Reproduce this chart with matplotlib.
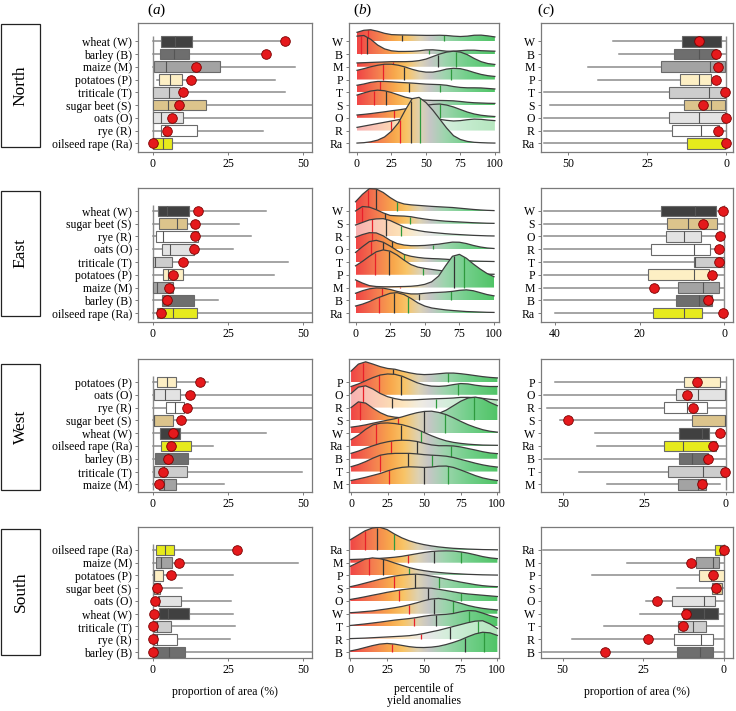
import numpy as np
import matplotlib
matplotlib.use("Agg")
import matplotlib.pyplot as plt
from matplotlib.colors import LinearSegmentedColormap
from matplotlib.patches import Polygon, Rectangle

# percentile grid of the density curves in panel (b)
PCT = np.arange(0, 101, 5)

CROP_NAMES = {"W": "wheat (W)", "B": "barley (B)", "M": "maize (M)", "P": "potatoes (P)",
              "T": "triticale (T)", "S": "sugar beet (S)", "O": "oats (O)", "R": "rye (R)",
              "Ra": "oilseed rape (Ra)"}
CROP_COLORS = {"W": "#404040", "B": "#6e6e6e", "M": "#a3a3a3", "P": "#fdefc4", "T": "#cdcdcd",
               "S": "#dcc48c", "O": "#e3e3e3", "R": "#ffffff", "Ra": "#e6ea1c"}

# ---------------- North ----------------
NORTH_ORDER = ["W", "B", "M", "P", "T", "S", "O", "R", "Ra"]
# (whisker low, q1, median, q3, whisker high)
NORTH_AREA = [(0, 2.6, 7.2, 13.0, 44.0), (0, 2.3, 6.9, 11.9, 37.8), (0, 0.2, 4.4, 22.4, 47.4),
              (1.3, 2.0, 5.8, 9.7, 40.7), (0, 0, 5.2, 8.9, 44.0), (0, 0, 5.0, 17.8, 60),
              (0, 0, 2.8, 10.0, 60), (0, 2.8, 4.1, 14.7, 36.7), (0, 0, 3.3, 6.2, 60)]
NORTH_AREA_DOT = [44.0, 37.8, 14.4, 12.8, 9.9, 8.7, 6.2, 4.8, 0.0]
NORTH_DENS = [
    [0.70, 0.86, 0.90, 0.78, 0.62, 0.52, 0.50, 0.49, 0.48, 0.47, 0.46, 0.46, 0.47, 0.45, 0.40, 0.37, 0.40, 0.47, 0.48, 0.42, 0.34],
    [1.40, 1.45, 1.15, 0.70, 0.40, 0.25, 0.20, 0.20, 0.21, 0.25, 0.32, 0.33, 0.28, 0.22, 0.22, 0.26, 0.30, 0.30, 0.26, 0.24, 0.22],
    [0.30, 0.32, 0.34, 0.36, 0.38, 0.40, 0.40, 0.40, 0.42, 0.48, 0.60, 0.80, 1.00, 1.15, 1.22, 1.15, 0.95, 0.65, 0.40, 0.25, 0.18],
    [0.72, 0.85, 1.00, 1.12, 1.20, 1.20, 1.12, 0.98, 0.80, 0.66, 0.58, 0.58, 0.68, 0.82, 0.88, 0.85, 0.72, 0.55, 0.40, 0.30, 0.24],
    [0.55, 0.65, 0.78, 0.85, 0.85, 0.82, 0.78, 0.75, 0.72, 0.68, 0.64, 0.62, 0.60, 0.55, 0.45, 0.38, 0.35, 0.35, 0.34, 0.30, 0.26],
    [0.78, 0.95, 1.10, 1.17, 1.12, 0.98, 0.80, 0.62, 0.50, 0.42, 0.38, 0.36, 0.36, 0.35, 0.33, 0.28, 0.22, 0.18, 0.16, 0.14, 0.13],
    [0.22, 0.27, 0.33, 0.40, 0.47, 0.55, 0.62, 0.70, 0.78, 0.88, 0.98, 1.05, 1.08, 1.00, 0.85, 0.65, 0.45, 0.30, 0.20, 0.14, 0.10],
    [0.25, 0.35, 0.45, 0.55, 0.65, 0.75, 0.85, 0.95, 1.02, 1.05, 1.02, 0.95, 0.88, 0.80, 0.75, 0.78, 0.85, 0.90, 0.88, 0.82, 0.78],
    [0.02, 0.05, 0.12, 0.25, 0.50, 0.95, 1.60, 2.60, 3.50, 3.60, 3.20, 2.60, 1.90, 1.20, 0.60, 0.30, 0.15, 0.08, 0.05, 0.03, 0.02],
]
NORTH_QUANT = [(8, 33, 63), (3, 7.5, 52), (26, 59, 72), (19, 34, 68), (17, 38, 60),
               (12, 21, 48), (27, 48, 60), (25, 43, 57), (31, 39, 46)]
NORTH_LOSS_ORDER = ["W", "B", "M", "P", "T", "S", "O", "R", "Ra"]
NORTH_LOSS = [(0, 1.5, 8.4, 13.9, 35.7), (0, 3.3, 8.6, 16.3, 33.8), (0, 0.2, 5.1, 20.7, 43.5),
              (1.8, 4.6, 8.4, 14.6, 40.6), (0, 0.2, 5.5, 17.9, 57.5), (0, 0.2, 4.7, 13.3, 55.6),
              (0, 0.2, 8.6, 18.0, 57.5), (0, 2.1, 7.9, 17.0, 57.5), (0, 0.2, 0.2, 12.5, 57.5)]
NORTH_LOSS_DOT = [8.4, 3.3, 2.6, 3.3, 0.2, 7.2, 0.0, 2.6, 0.0]

# ---------------- East ----------------
EAST_ORDER = ["W", "S", "R", "O", "T", "P", "M", "B", "Ra"]
EAST_AREA = [(0, 1.5, 4.7, 12.0, 37.6), (0, 2.0, 7.9, 11.3, 28.7), (0, 1.1, 3.4, 14.9, 32.8),
             (0, 3.0, 5.7, 13.5, 26.6), (0, 0, 0.6, 6.4, 45.0), (0, 3.4, 5.0, 10.1, 40.4),
             (0, 0, 1.3, 6.5, 60), (0, 3.0, 5.0, 13.7, 21.6), (0, 1.3, 6.5, 14.6, 60)]
EAST_AREA_DOT = [14.9, 13.9, 13.9, 13.5, 9.9, 6.5, 5.4, 4.8, 2.8]
EAST_DENS = [
    [0.72, 1.30, 1.75, 1.72, 1.45, 1.05, 0.72, 0.55, 0.48, 0.44, 0.40, 0.36, 0.33, 0.30, 0.27, 0.22, 0.17, 0.12, 0.08, 0.05, 0.03],
    [1.00, 1.35, 1.30, 1.10, 0.85, 0.65, 0.62, 0.60, 0.55, 0.45, 0.37, 0.30, 0.25, 0.20, 0.17, 0.14, 0.11, 0.08, 0.06, 0.04, 0.03],
    [0.90, 1.10, 1.30, 1.38, 1.40, 1.25, 1.00, 0.75, 0.58, 0.47, 0.38, 0.32, 0.27, 0.22, 0.18, 0.15, 0.12, 0.09, 0.07, 0.05, 0.04],
    [0.95, 1.15, 1.30, 1.28, 1.05, 0.70, 0.45, 0.33, 0.28, 0.28, 0.30, 0.35, 0.40, 0.48, 0.56, 0.55, 0.45, 0.30, 0.18, 0.10, 0.06],
    [0.75, 1.20, 1.60, 1.70, 1.55, 1.25, 0.90, 0.60, 0.45, 0.36, 0.30, 0.27, 0.25, 0.22, 0.18, 0.14, 0.11, 0.08, 0.06, 0.05, 0.04],
    [0.70, 1.05, 1.45, 1.80, 1.95, 1.85, 1.55, 1.15, 0.80, 0.60, 0.50, 0.42, 0.35, 0.28, 0.22, 0.17, 0.13, 0.10, 0.07, 0.05, 0.04],
    [0.60, 0.35, 0.15, 0.08, 0.06, 0.06, 0.07, 0.08, 0.10, 0.15, 0.25, 0.45, 0.90, 1.70, 2.45, 2.60, 2.30, 1.85, 1.45, 1.10, 0.85],
    [0.55, 0.75, 0.90, 0.97, 0.95, 0.85, 0.70, 0.58, 0.50, 0.50, 0.55, 0.60, 0.62, 0.65, 0.70, 0.78, 0.82, 0.75, 0.60, 0.45, 0.35],
    [0.55, 0.70, 0.90, 1.15, 1.35, 1.55, 1.60, 1.45, 1.15, 0.80, 0.55, 0.40, 0.32, 0.25, 0.20, 0.16, 0.12, 0.10, 0.08, 0.06, 0.05],
]
EAST_QUANT = [(9, 15, 30), (5, 21, 39), (12, 22, 33), (12, 26, 56), (11, 20, 35),
              (14, 24, 49), (32, 71, 78), (19, 46, 69), (17, 28, 38)]
EAST_LOSS_ORDER = ["W", "S", "O", "R", "T", "P", "M", "B", "Ra"]
EAST_LOSS = [(0, 2.0, 6.9, 15.0, 42.6), (0, 1.7, 8.6, 13.4, 42.6), (0, 5.4, 9.4, 13.8, 42.6),
             (0, 3.3, 7.2, 17.2, 42.6), (0, 0, 7.0, 7.2, 42.6), (0, 3.5, 7.2, 18.1, 42.6),
             (0, 1.3, 4.9, 10.8, 42.6), (0, 2.8, 5.9, 11.4, 42.6), (0, 5.3, 9.6, 16.9, 40.0)]
EAST_LOSS_DOT = [0.3, 5.0, 0.9, 1.3, 1.2, 2.8, 16.5, 3.9, 0.3]

# ---------------- West ----------------
WEST_ORDER = ["P", "O", "R", "S", "W", "Ra", "B", "T", "M"]
WEST_AREA = [(0, 1.3, 4.5, 7.8, 18.4), (0, 0.2, 3.9, 8.9, 60), (0, 4.2, 7.3, 10.3, 60),
             (0, 0.2, 0.2, 6.7, 60), (0, 2.2, 6.7, 8.9, 37.7), (0, 2.5, 6.1, 12.5, 20.1),
             (0, 0.6, 5.0, 11.7, 60), (0, 0.2, 3.6, 11.2, 49.5), (0, 2.0, 3.6, 7.5, 23.5)]
WEST_AREA_DOT = [15.6, 12.3, 11.2, 9.2, 6.7, 6.1, 5.0, 3.4, 1.9]
WEST_DENS = [
    [0.85, 1.40, 1.58, 1.40, 1.20, 1.06, 1.00, 0.85, 0.72, 0.62, 0.58, 0.60, 0.65, 0.70, 0.70, 0.65, 0.58, 0.50, 0.42, 0.36, 0.32],
    [0.65, 0.85, 1.10, 1.35, 1.55, 1.63, 1.60, 1.45, 1.20, 0.95, 0.78, 0.68, 0.66, 0.70, 0.80, 0.88, 0.85, 0.75, 0.68, 0.65, 0.65],
    [1.10, 1.60, 1.70, 1.45, 1.10, 0.85, 0.70, 0.60, 0.60, 0.62, 0.65, 0.68, 0.70, 0.72, 0.75, 0.80, 0.80, 0.78, 0.72, 0.65, 0.60],
    [1.00, 1.45, 1.35, 0.95, 0.60, 0.35, 0.25, 0.20, 0.20, 0.22, 0.28, 0.38, 0.55, 0.80, 1.15, 1.50, 1.75, 1.82, 1.70, 1.40, 1.15],
    [0.47, 0.55, 0.65, 0.78, 0.90, 1.02, 1.13, 1.28, 1.45, 1.60, 1.70, 1.72, 1.62, 1.45, 1.20, 0.92, 0.66, 0.45, 0.27, 0.15, 0.08],
    [0.50, 0.85, 1.30, 1.65, 1.78, 1.80, 1.75, 1.66, 1.50, 1.30, 1.05, 0.80, 0.58, 0.40, 0.28, 0.20, 0.14, 0.10, 0.07, 0.06, 0.05],
    [0.42, 0.60, 0.82, 1.02, 1.20, 1.33, 1.42, 1.45, 1.43, 1.35, 1.20, 1.08, 1.02, 1.02, 1.00, 0.92, 0.80, 0.68, 0.55, 0.45, 0.40],
    [0.38, 0.55, 0.78, 1.05, 1.28, 1.38, 1.42, 1.42, 1.42, 1.38, 1.32, 1.28, 1.25, 1.20, 1.10, 0.95, 0.80, 0.65, 0.52, 0.42, 0.35],
    [0.30, 0.42, 0.55, 0.70, 0.85, 1.05, 1.22, 1.33, 1.37, 1.35, 1.32, 1.35, 1.42, 1.43, 1.32, 1.12, 0.90, 0.68, 0.50, 0.38, 0.30],
]
WEST_QUANT = [(8, 29, 66), (19, 34, 73), (8, 28, 58), (6, 43, 84), (32, 50, 64),
              (17, 34, 48), (27, 45, 68), (20, 39, 55), (26, 50, 66)]
WEST_LOSS_ORDER = ["P", "O", "R", "S", "W", "Ra", "B", "T", "M"]
WEST_LOSS = [(0, 1.9, 8.9, 12.7, 52.4), (0, 0.2, 8.4, 15.3, 55.7), (0, 5.8, 11.8, 19.0, 54.9),
             (0, 0.2, 0.2, 10.4, 50.8), (0, 5.1, 7.4, 14.5, 40.1), (0, 3.0, 13.0, 19.0, 39.6),
             (0, 5.6, 10.4, 14.3, 55.7), (0, 0.2, 6.9, 17.6, 44.9), (1.7, 6.2, 8.4, 14.6, 36.5)]
WEST_LOSS_DOT = [8.9, 12.0, 10.1, 48.5, 1.7, 4.0, 5.6, 0.2, 7.4]

# ---------------- South ----------------
SOUTH_ORDER = ["Ra", "M", "P", "S", "O", "W", "T", "R", "B"]
SOUTH_AREA = [(0, 1.1, 3.9, 6.9, 27.9), (0, 1.1, 2.5, 6.4, 48.4), (0, 0.2, 0.2, 3.4, 26.8),
              (0, 0.2, 1.3, 2.2, 9.8), (0, 1.5, 2.0, 9.2, 25.9), (0, 1.9, 5.0, 12.0, 26.5),
              (0, 0.2, 1.3, 6.1, 27.4), (0, 0.2, 1.3, 8.0, 25.7), (0, 0, 5.4, 10.6, 60)]
SOUTH_AREA_DOT = [27.9, 8.6, 6.1, 1.3, 0.8, 0.2, 0.0, 0.0, 0.0]
SOUTH_DENS = [
    [0.80, 1.15, 1.50, 1.72, 1.78, 1.60, 1.25, 0.95, 0.72, 0.55, 0.42, 0.32, 0.24, 0.18, 0.13, 0.10, 0.07, 0.05, 0.03, 0.02, 0.01],
    [0.25, 0.27, 0.29, 0.31, 0.34, 0.38, 0.43, 0.50, 0.60, 0.70, 0.80, 0.88, 0.92, 0.93, 0.92, 0.85, 0.75, 0.62, 0.48, 0.38, 0.32],
    [0.72, 1.00, 1.28, 1.38, 1.32, 1.18, 0.98, 0.80, 0.62, 0.48, 0.38, 0.30, 0.24, 0.19, 0.15, 0.12, 0.09, 0.07, 0.05, 0.04, 0.03],
    [0.12, 0.25, 0.40, 0.55, 0.70, 0.83, 0.95, 1.03, 1.08, 1.10, 1.05, 0.95, 0.85, 0.72, 0.60, 0.48, 0.38, 0.28, 0.20, 0.15, 0.12],
    [0.12, 0.22, 0.33, 0.45, 0.56, 0.68, 0.78, 0.88, 0.95, 1.00, 1.02, 1.00, 0.92, 0.82, 0.72, 0.62, 0.55, 0.50, 0.45, 0.40, 0.35],
    [0.08, 0.12, 0.17, 0.22, 0.30, 0.38, 0.47, 0.57, 0.70, 0.85, 1.02, 1.15, 1.20, 1.12, 0.98, 0.82, 0.65, 0.52, 0.42, 0.35, 0.30],
    [0.08, 0.14, 0.20, 0.27, 0.34, 0.42, 0.50, 0.56, 0.62, 0.70, 0.80, 0.88, 0.92, 0.95, 1.02, 1.15, 1.25, 1.22, 1.05, 0.85, 0.70],
    [0.05, 0.07, 0.09, 0.12, 0.15, 0.18, 0.21, 0.24, 0.28, 0.35, 0.45, 0.58, 0.70, 0.85, 1.00, 1.15, 1.30, 1.42, 1.45, 1.20, 0.85],
    [0.08, 0.20, 0.35, 0.50, 0.62, 0.67, 0.62, 0.52, 0.42, 0.36, 0.35, 0.38, 0.45, 0.58, 0.75, 0.95, 1.20, 1.42, 1.55, 1.50, 1.30],
]
SOUTH_QUANT = [(10, 18, 30), (39, 57, 75), (13, 22, 40), (30, 44, 60), (33, 53, 75),
               (40, 57, 70), (43, 58, 81), (48, 68, 87), (28, 78, 91)]
SOUTH_LOSS_ORDER = ["Ra", "M", "P", "S", "O", "W", "T", "R", "B"]
SOUTH_LOSS = [(0, 0, 1.2, 2.8, 56), (0, 1.5, 3.5, 8.8, 30.2), (0, 0, 4.1, 7.7, 41.0),
              (0, 0.5, 2.3, 3.6, 14.7), (0, 2.8, 6.1, 16.0, 24.2), (0, 1.8, 6.1, 12.6, 26.0),
              (0, 5.6, 9.5, 14.2, 37.2), (0, 3.5, 7.2, 15.4, 47.2), (0, 3.5, 7.4, 14.5, 56)]
SOUTH_LOSS_DOT = [0.0, 10.2, 3.3, 2.6, 20.7, 11.8, 12.6, 23.4, 36.9]

REGIONS = ["North", "East", "West", "South"]

# layout in pixels of the 736 x 711 figure
W_PX, H_PX = 736, 711
COL_X = [(138, 312), (349, 499), (541, 733)]
ROW_Y = [(23, 152), (188, 322), (359, 492), (527, 658)]
LABEL_BOX_Y = [(24, 147), (191, 316), (364, 490), (529, 655)]
ROW_YLIM = [(0.32, 10.43), (0.3, 10.8), (0.4, 10.8), (0.53, 10.8)]
RIDGE_XLIM = [(-5.8, 103), (-4.7, 103.6), (-1.4, 101.1), (-0.9, 101.1)]
LOSS_XLIM = [(58.5, -2.2), (43.3, -2.1), (56.7, -2.2), (56.7, -2.8)]
LOSS_TICKS = [[50, 25, 0], [40, 20, 0], [50, 25, 0], [50, 25, 0]]

plt.rcParams["font.family"] = ["Liberation Serif", "DejaVu Serif"]
plt.rcParams["mathtext.fontset"] = "custom"
plt.rcParams["mathtext.rm"] = "Liberation Serif"
plt.rcParams["mathtext.it"] = "Liberation Serif:italic"

GRAY = "#7a7a7a"
WHISKER = "#8c8c8c"
FS = 8.5

yield_cmap = LinearSegmentedColormap.from_list(
    "yield", [(0, "#f04545"), (0.15, "#f47d50"), (0.27, "#f8a84c"), (0.36, "#f9c466"),
              (0.46, "#ddd2b4"), (0.53, "#c6c6c6"), (0.64, "#9dd5ad"), (0.8, "#72cf8a"),
              (1, "#50c466")])


def px_axes(fig, col, row):
    x0, x1 = COL_X[col]
    y0, y1 = ROW_Y[row]
    ax = fig.add_axes([x0 / W_PX, 1 - y1 / H_PX, (x1 - x0) / W_PX, (y1 - y0) / H_PX])
    for s in ax.spines.values():
        s.set_color(GRAY)
        s.set_linewidth(0.9)
    ax.tick_params(labelsize=FS, length=2.5, width=0.7, color=GRAY, pad=2)
    return ax


def draw_boxes(ax, order, stats, dots, ylim):
    ys = np.arange(len(order), 0, -1)
    bx = [dict(whislo=s[0], q1=s[1], med=s[2], q3=s[3], whishi=s[4], fliers=[]) for s in stats]
    ax.vlines(0, ys.min() - 0.45, ys.max() + 0.45, color=WHISKER, lw=1.0, zorder=1)
    art = ax.bxp(bx, positions=ys, widths=0.84, orientation="horizontal", patch_artist=True,
                 showcaps=False, showfliers=False,
                 boxprops=dict(edgecolor="#6a6a6a", linewidth=0.8),
                 whiskerprops=dict(color=WHISKER, linewidth=1.1),
                 medianprops=dict(color="#555555", linewidth=0.8))
    for patch, code in zip(art["boxes"], order):
        patch.set_facecolor(CROP_COLORS[code])
        patch.set_zorder(3)
    for line in art["medians"]:
        line.set_zorder(4)
    ax.scatter(dots, ys, s=48, color="#e5191c", edgecolor="#7a0000", linewidth=0.6, zorder=5, clip_on=False)
    ax.set_ylim(*ylim)
    ax.set_yticks(ys)


def draw_ridges(ax, order, dens, quants, xlim, ylim):
    ys = np.arange(len(order), 0, -1)
    colors = yield_cmap(np.linspace(0, 1, 256))
    for i, (code, d, q) in enumerate(zip(order, dens, quants)):
        y0 = ys[i]
        d = np.asarray(d, dtype=float)
        z = 10 + i
        img = colors.copy()
        if code == "R":
            img[:, :3] = 1 - 0.42 * (1 - img[:, :3])
        verts = np.column_stack([np.r_[PCT, PCT[::-1]], np.r_[y0 + d, np.full(len(d), y0)]])
        clip = Polygon(verts, closed=True, facecolor="none", edgecolor="none", zorder=z)
        ax.add_patch(clip)
        im = ax.imshow(img[None, :, :], extent=(0, 100, y0, y0 + d.max()), aspect="auto",
                       origin="lower", interpolation="bilinear", zorder=z)
        im.set_clip_path(clip)
        h = np.interp(q, PCT, d)
        ax.vlines(q, y0, y0 + h, colors=["#e8202a", "#333333", "#2e9a3e"], lw=0.9, zorder=z + 0.3)
        ax.plot(PCT, y0 + d, color="#3d3d3d", lw=0.9, zorder=z + 0.5)
    ax.set_xlim(*xlim)
    ax.set_ylim(*ylim)
    ax.set_yticks(ys)
    ax.set_yticklabels(order)
    ax.set_xticks([0, 25, 50, 75, 100])


fig = plt.figure(figsize=(W_PX / 100, H_PX / 100), dpi=100)

rows = [
    (NORTH_ORDER, NORTH_AREA, NORTH_AREA_DOT, NORTH_DENS, NORTH_QUANT, NORTH_LOSS_ORDER, NORTH_LOSS, NORTH_LOSS_DOT),
    (EAST_ORDER, EAST_AREA, EAST_AREA_DOT, EAST_DENS, EAST_QUANT, EAST_LOSS_ORDER, EAST_LOSS, EAST_LOSS_DOT),
    (WEST_ORDER, WEST_AREA, WEST_AREA_DOT, WEST_DENS, WEST_QUANT, WEST_LOSS_ORDER, WEST_LOSS, WEST_LOSS_DOT),
    (SOUTH_ORDER, SOUTH_AREA, SOUTH_AREA_DOT, SOUTH_DENS, SOUTH_QUANT, SOUTH_LOSS_ORDER, SOUTH_LOSS, SOUTH_LOSS_DOT),
]

for r, (order, area, area_dot, dens, quant, lorder, loss, loss_dot) in enumerate(rows):
    ax_a = px_axes(fig, 0, r)
    draw_boxes(ax_a, order, area, area_dot, ROW_YLIM[r])
    ax_a.set_yticklabels([CROP_NAMES[c] for c in order])
    ax_a.set_xlim(-5, 53)
    ax_a.set_xticks([0, 25, 50])

    ax_b = px_axes(fig, 1, r)
    draw_ridges(ax_b, order, dens, quant, RIDGE_XLIM[r], ROW_YLIM[r])

    ax_c = px_axes(fig, 2, r)
    draw_boxes(ax_c, lorder, loss, loss_dot, ROW_YLIM[r])
    ax_c.set_yticklabels(lorder)
    ax_c.set_xlim(*LOSS_XLIM[r])
    ax_c.set_xticks(LOSS_TICKS[r])

    if r == 3:
        ax_a.set_xlabel("proportion of area (%)", fontsize=FS, labelpad=7)
        ax_c.set_xlabel("proportion of area (%)", fontsize=FS, labelpad=7)
        ax_b.set_xlabel("percentile of\nyield anomalies", fontsize=FS, labelpad=5, linespacing=1.0)

    # region label box
    b0, b1 = LABEL_BOX_Y[r]
    fig.patches.append(Rectangle((1 / W_PX, 1 - b1 / H_PX), 39 / W_PX, (b1 - b0) / H_PX,
                                 transform=fig.transFigure, facecolor="none", edgecolor="#222222", lw=0.9))
    fig.text(20.5 / W_PX, 1 - (b0 + b1) / 2 / H_PX, REGIONS[r], rotation=90, ha="center", va="center", fontsize=12.5)

for lab, xp in zip("abc", [147, 353, 537]):
    fig.text(xp / W_PX, 1 - 10 / H_PX, "($\\it{%s}$)" % lab, ha="left", va="center", fontsize=11)

fig.savefig("out.png", dpi=100)
